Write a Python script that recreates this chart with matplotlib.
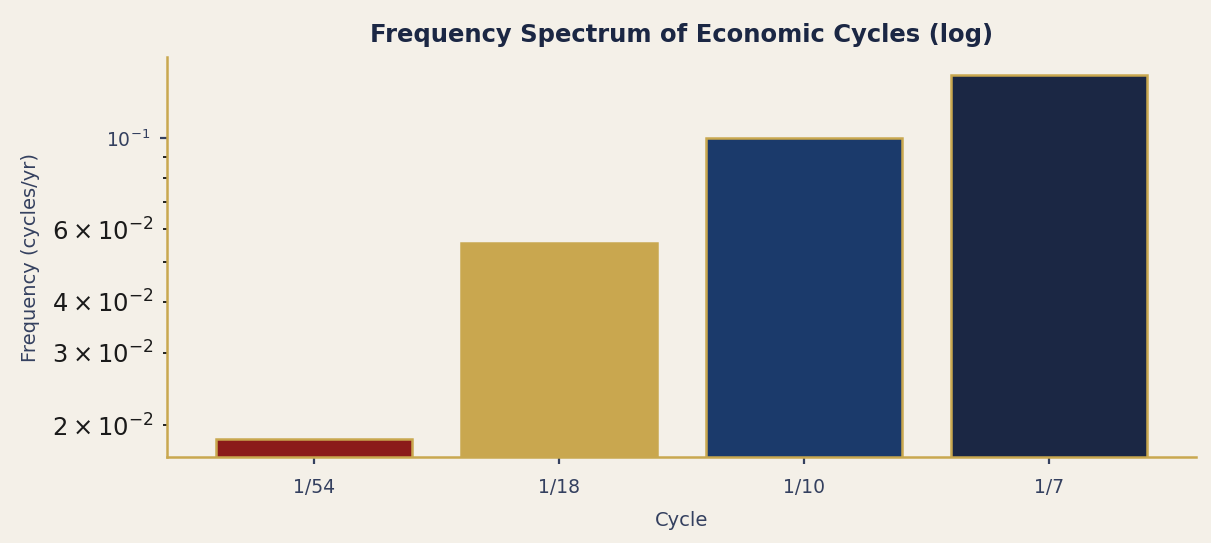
import matplotlib
matplotlib.use("Agg")
import matplotlib.pyplot as plt

# data
cycles = ["1/54", "1/18", "1/10", "1/7"]
freqs = [1 / 54, 1 / 18, 1 / 10, 1 / 7]
bar_colors = ["#8B1A1A", "#C9A74F", "#1B3A6B", "#1B2744"]

bg = "#F4F0E8"
gold = "#C9A84F"
navy = "#1B2744"
label_col = "#34405F"

fig = plt.figure(figsize=(12.11, 5.43), dpi=100, facecolor=bg)
ax = fig.add_axes([0.138, 0.158, 0.850, 0.737], facecolor=bg)

x = range(len(cycles))
ax.bar(x, freqs, width=0.8, color=bar_colors, edgecolor=gold, linewidth=1.8)
ax.set_yscale("log")
ax.set_ylim(0.0167, 0.158)
ax.set_xlim(-0.6, 3.6)
ax.set_xticks(list(x))
ax.set_xticklabels(cycles)

# styling
for side in ["top", "right"]:
    ax.spines[side].set_visible(False)
for side in ["left", "bottom"]:
    ax.spines[side].set_color(gold)
    ax.spines[side].set_linewidth(1.8)

ax.tick_params(axis="x", labelsize=13.5, colors=label_col, length=5, width=1.6, pad=10)
ax.tick_params(axis="y", labelsize=13.5, colors=label_col, length=5, width=1.6, pad=7)
ax.tick_params(axis="y", which="minor", labelsize=17.5, labelcolor="#1a1a1a",
               length=3, width=1.2, pad=7)

ax.set_title("Frequency Spectrum of Economic Cycles (log)", fontsize=17.5,
             fontweight="bold", color=navy, pad=11)
ax.set_xlabel("Cycle", fontsize=14, color=label_col, labelpad=10)
ax.set_ylabel("Frequency (cycles/yr)", fontsize=14, color=label_col, labelpad=8)

fig.savefig("out.png", dpi=100, facecolor=bg)
